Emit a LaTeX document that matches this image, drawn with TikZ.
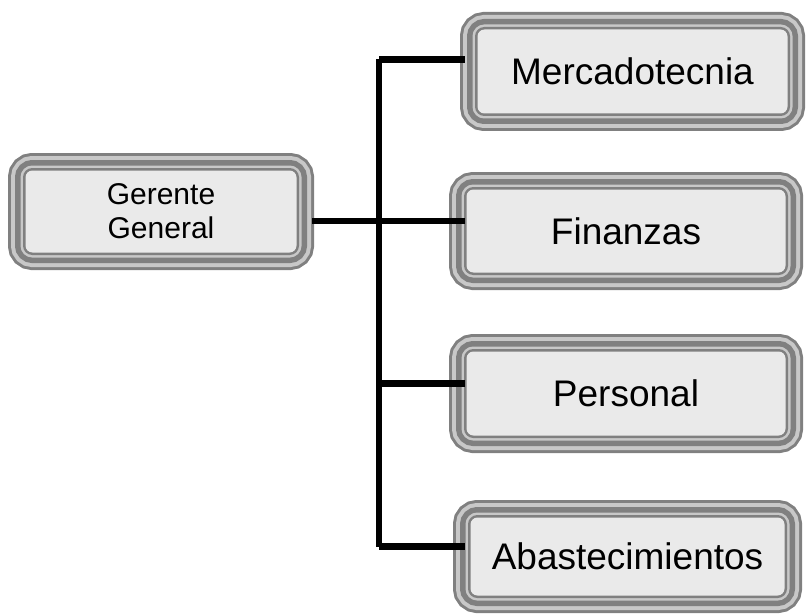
\documentclass[tikz,border=0pt]{standalone}
\usepackage{fontspec}
\setmainfont{Liberation Sans}
\usetikzlibrary{calc}
\definecolor{bandDark}{HTML}{808080}
\definecolor{bandLight}{HTML}{C8C8C8}
\definecolor{boxFill}{HTML}{EAEAEA}
\tikzset{
  % rounded box with a layered grey frame built from stacked strokes
  unitbox/.style={rectangle, rounded corners=7pt, inner sep=0pt, fill=boxFill, text=black,
    preaction={draw=bandDark, line width=35pt},
    preaction={draw=bandLight, line width=29pt},
    preaction={draw=bandDark, line width=21pt},
    preaction={draw=bandLight, line width=10pt},
    preaction={draw=bandDark, line width=5pt}},
  dept/.style={unitbox, font=\fontsize{37}{42}\selectfont, text height=26.5pt, text depth=0pt},
  conn/.style={draw=black, line width=6.5pt}
}
\begin{document}
\begin{tikzpicture}[x=1pt, y=-1pt]
\useasboundingbox (0,0) rectangle (808,615);

% boxes
\node[unitbox, minimum width=271pt, minimum height=82pt, align=center,
      font=\fontsize{30}{34}\selectfont] (gg) at (161,211.5) {Gerente\\General};
\node[dept, minimum width=310pt, minimum height=84pt] (mk) at (632.5,71.5) {Mercadotecnia};
\node[dept, minimum width=319pt, minimum height=83pt] (fi) at (626,231) {Finanzas};
\node[dept, minimum width=319pt, minimum height=84pt] (pe) at (626,393.5) {Personal};
\node[dept, minimum width=314pt, minimum height=78pt] (ab) at (627.5,556.5) {Abastecimientos};

% junctions on the vertical trunk
\coordinate (jm) at (379,59.5);
\coordinate (jf) at (379,221);
\coordinate (jp) at (379,383.5);
\coordinate (ja) at (379,546.5);

% connectors
\draw[conn] (jm) -- (ja);
\draw[conn] ($(gg.east |- jf)+(15.5,0)$) -- (jf) -- ($(fi.west |- jf)+(-1.5,0)$);
\draw[conn] (jm) -- ($(mk.west |- jm)+(-12.5,0)$);
\draw[conn] (jp) -- ($(pe.west |- jp)+(-1.5,0)$);
\draw[conn] (ja) -- ($(ab.west |- ja)+(-5.5,0)$);
\end{tikzpicture}
\end{document}
